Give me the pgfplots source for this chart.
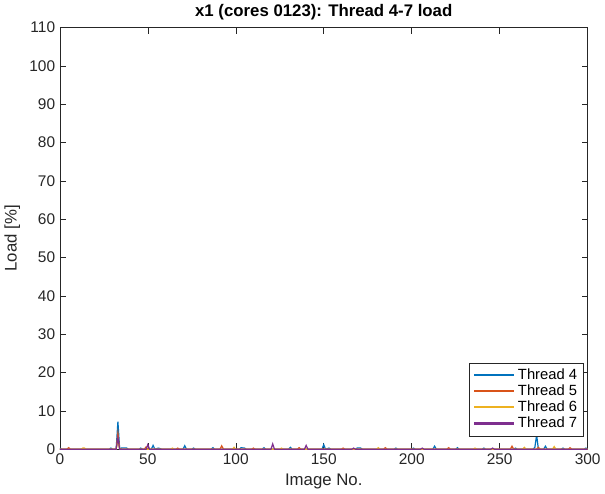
\documentclass[border=0pt]{standalone}
\usepackage{fontspec}
\setmainfont{Liberation Sans}
\usepackage{pgfplots}
\pgfplotsset{compat=1.18}
\definecolor{ml1}{rgb}{0,0.447,0.741}
\definecolor{ml2}{rgb}{0.85,0.325,0.098}
\definecolor{ml3}{rgb}{0.929,0.694,0.125}
\definecolor{ml4}{rgb}{0.494,0.184,0.556}
\definecolor{axgray}{rgb}{0.15,0.15,0.15}
\begin{document}
\begin{tikzpicture}
\begin{axis}[
  scale only axis,
  width=393pt, height=314pt,
  xmin=0, xmax=300, ymin=0, ymax=110,
  xtick={0,50,...,300}, ytick={0,10,...,110},
  tick align=inside, major tick length=4.5pt,
  axis line style={axgray, line width=0.4pt},
  tick style={axgray, line width=0.4pt},
  ticklabel style={font=\fontsize{11.5}{13}\selectfont, text=axgray},
  /pgf/number format/assume math mode=true,
  xlabel={Image No.}, ylabel={Load [\%]},
  label style={font=\fontsize{12.5}{14}\selectfont, text=axgray},
  title={\textbf{x1 (cores 0123): Thread 4-7 load}},
  title style={font=\fontsize{12.5}{14}\selectfont, yshift=-4pt},
  legend style={at={(0.992,0.031)}, anchor=south east, font=\fontsize{11}{13}\selectfont,
    draw=axgray, row sep=-1.5pt, inner sep=2.5pt},
  legend cell align=left,
  legend image code/.code={\draw[#1, line width=1.6pt] (0cm,0cm) -- (1.05cm,0cm);},
  every axis plot/.append style={line width=0.9pt},
]
\addplot[draw=ml1] coordinates {(0,0.3)(1,0)(28,0)(29,0.3)(30,0)(32,0)(33,7.2)(34,0)(35,0.3)(38,0.3)(39,0)(45,0)(46,0.3)(47,0)(52,0)(53,1.0)(54,0)(56,0.3)(58,0)(70,0)(71,0.9)(72,0)(75,0)(76,0.3)(77,0)(86,0)(87,0.4)(88,0)(102,0)(103,0.4)(105,0.3)(106,0)(115,0)(116,0.4)(117,0)(130,0)(131,0.5)(132,0)(149,0)(150,1.2)(151,0)(153,0.3)(154,0)(168,0)(169,0.3)(171,0.3)(172,0)(190,0)(191,0.3)(192,0)(200,0)(201,0.3)(202,0)(212,0)(213,0.8)(214,0)(225,0)(226,0.4)(227,0)(240,0)(241,0.3)(242,0)(258,0)(259,0.3)(260,0)(269,0)(270,0.5)(271,3.7)(272,0)(275,0)(276,0.8)(277,0)(285,0)(286,0.3)(287,0)(298,0)(299,0.3)(300,0)};
\addplot[draw=ml2] coordinates {(0,0)(4,0)(5,0.4)(6,0)(32,0)(33,4.2)(34,0)(48,0)(49,0.6)(50,0)(66,0)(67,0.3)(68,0)(91,0)(92,0.9)(93,0)(109,0)(110,0.3)(111,0)(135,0)(136,0.4)(137,0)(160,0)(161,0.3)(162,0)(184,0)(185,0.4)(186,0)(220,0)(221,0.4)(222,0)(256,0)(257,0.8)(258,0)(271,0)(272,0.5)(273,0)(289,0)(290,0.4)(291,0)(300,0)};
\addplot[draw=ml3] coordinates {(0,0)(12,0)(13,0.3)(14,0.3)(15,0)(32,0)(33,2.3)(34,0)(63,0)(64,0.3)(65,0)(98,0)(99,0.5)(100,0)(125,0)(126,0.3)(127,0)(180,0)(181,0.4)(182,0)(235,0)(236,0.3)(237,0)(263,0)(264,0.5)(265,0)(280,0)(281,0.7)(282,0)(300,0)};
\addplot[draw=ml4] coordinates {(0,0)(32,0)(33,3.0)(34,0)(49,0)(50,1.2)(51,0)(120,0)(121,1.4)(122,0)(139,0)(140,1.0)(141,0)(166,0)(167,0.3)(168,0)(205,0)(206,0.3)(207,0)(245,0)(246,0.3)(247,0)(300,0)};
\legend{Thread 4, Thread 5, Thread 6, Thread 7}
\end{axis}
\end{tikzpicture}
\end{document}
